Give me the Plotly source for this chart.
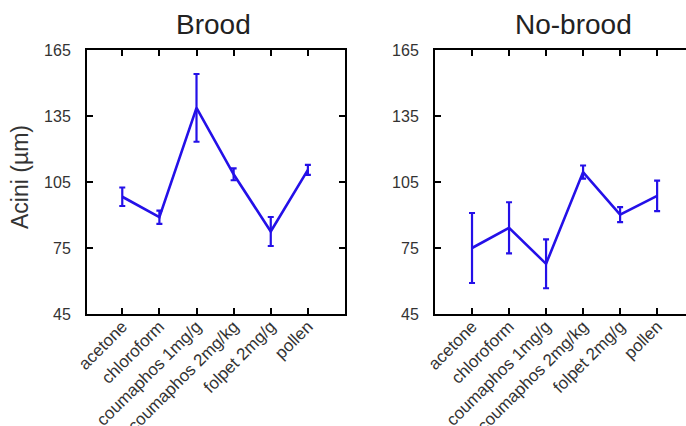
import plotly.graph_objects as go

categories = ["acetone", "chloroform", "coumaphos 1mg/g", "coumaphos 2mg/kg", "folpet 2mg/g", "pollen"]
brood_mean = [98.3, 89.0, 138.7, 108.5, 82.5, 110.5]
brood_err = [4.2, 3.0, 15.4, 2.7, 6.6, 2.3]
nobrood_mean = [75.0, 84.2, 67.8, 109.5, 90.2, 98.7]
nobrood_err = [15.9, 11.6, 11.1, 3.0, 3.4, 6.9]
y_ticks = [45, 75, 105, 135, 165]

BLUE = "#2410e8"
FONT = "Liberation Sans, Arial, sans-serif"
W, H = 686, 426

x_idx = list(range(len(categories)))

fig = go.Figure()
for mean, err, xa, ya in [(brood_mean, brood_err, "x", "y"), (nobrood_mean, nobrood_err, "x2", "y2")]:
    fig.add_trace(go.Scatter(
        x=x_idx, y=mean, mode="lines",
        line=dict(color=BLUE, width=2.6),
        error_y=dict(type="data", array=err, visible=True, color=BLUE, thickness=2.2, width=3),
        xaxis=xa, yaxis=ya, showlegend=False, hoverinfo="skip",
    ))

def px_x(p):
    return p / W

def px_y(p):
    return 1 - p / H

common_x = dict(
    tickmode="array", tickvals=x_idx, ticktext=categories, tickangle=-45,
    ticks="inside", ticklen=6, tickwidth=2, tickcolor="black",
    showline=True, linecolor="black", linewidth=2, showgrid=False, zeroline=False,
    tickfont=dict(family=FONT, size=17, color="#333333"), automargin=False,
    ticklabelstandoff=-6,
)
common_y = dict(
    range=[45, 165], tickmode="array", tickvals=y_ticks,
    ticks="inside", ticklen=6, tickwidth=2, tickcolor="black",
    showline=True, linecolor="black", linewidth=2, showgrid=False, zeroline=False,
    tickfont=dict(family=FONT, size=16, color="#333333"), ticklabelstandoff=11,
    automargin=False,
)

fig.update_layout(
    width=W, height=H,
    margin=dict(l=0, r=0, t=0, b=0),
    paper_bgcolor="white", plot_bgcolor="white",
    xaxis=dict(common_x, domain=[px_x(87), px_x(345)], range=[-0.95, 6.0], mirror="ticks", anchor="y"),
    yaxis=dict(common_y, domain=[px_y(314), px_y(50)], mirror="ticks", anchor="x"),
    xaxis2=dict(common_x, domain=[px_x(435), 1.0], range=[-1.0, 5.78], mirror="ticks", anchor="y2"),
    yaxis2=dict(common_y, domain=[px_y(314), px_y(50)], mirror=False, anchor="x2"),
    annotations=[
        dict(text="Brood", x=px_x(213), y=px_y(25), xref="paper", yref="paper",
             showarrow=False, xanchor="center", yanchor="middle",
             font=dict(family=FONT, size=28, color="#222222")),
        dict(text="No-brood", x=px_x(573), y=px_y(25), xref="paper", yref="paper",
             showarrow=False, xanchor="center", yanchor="middle",
             font=dict(family=FONT, size=28, color="#222222")),
        dict(text="Acini (µm)", x=px_x(20), y=px_y(177), xref="paper", yref="paper",
             showarrow=False, xanchor="center", yanchor="middle", textangle=-90,
             font=dict(family=FONT, size=23, color="#333333")),
    ],
)

fig.write_html(
    "out.html",
    config={"displayModeBar": False},
    post_script="document.body.style.margin='0';document.body.style.overflow='hidden';",
)
